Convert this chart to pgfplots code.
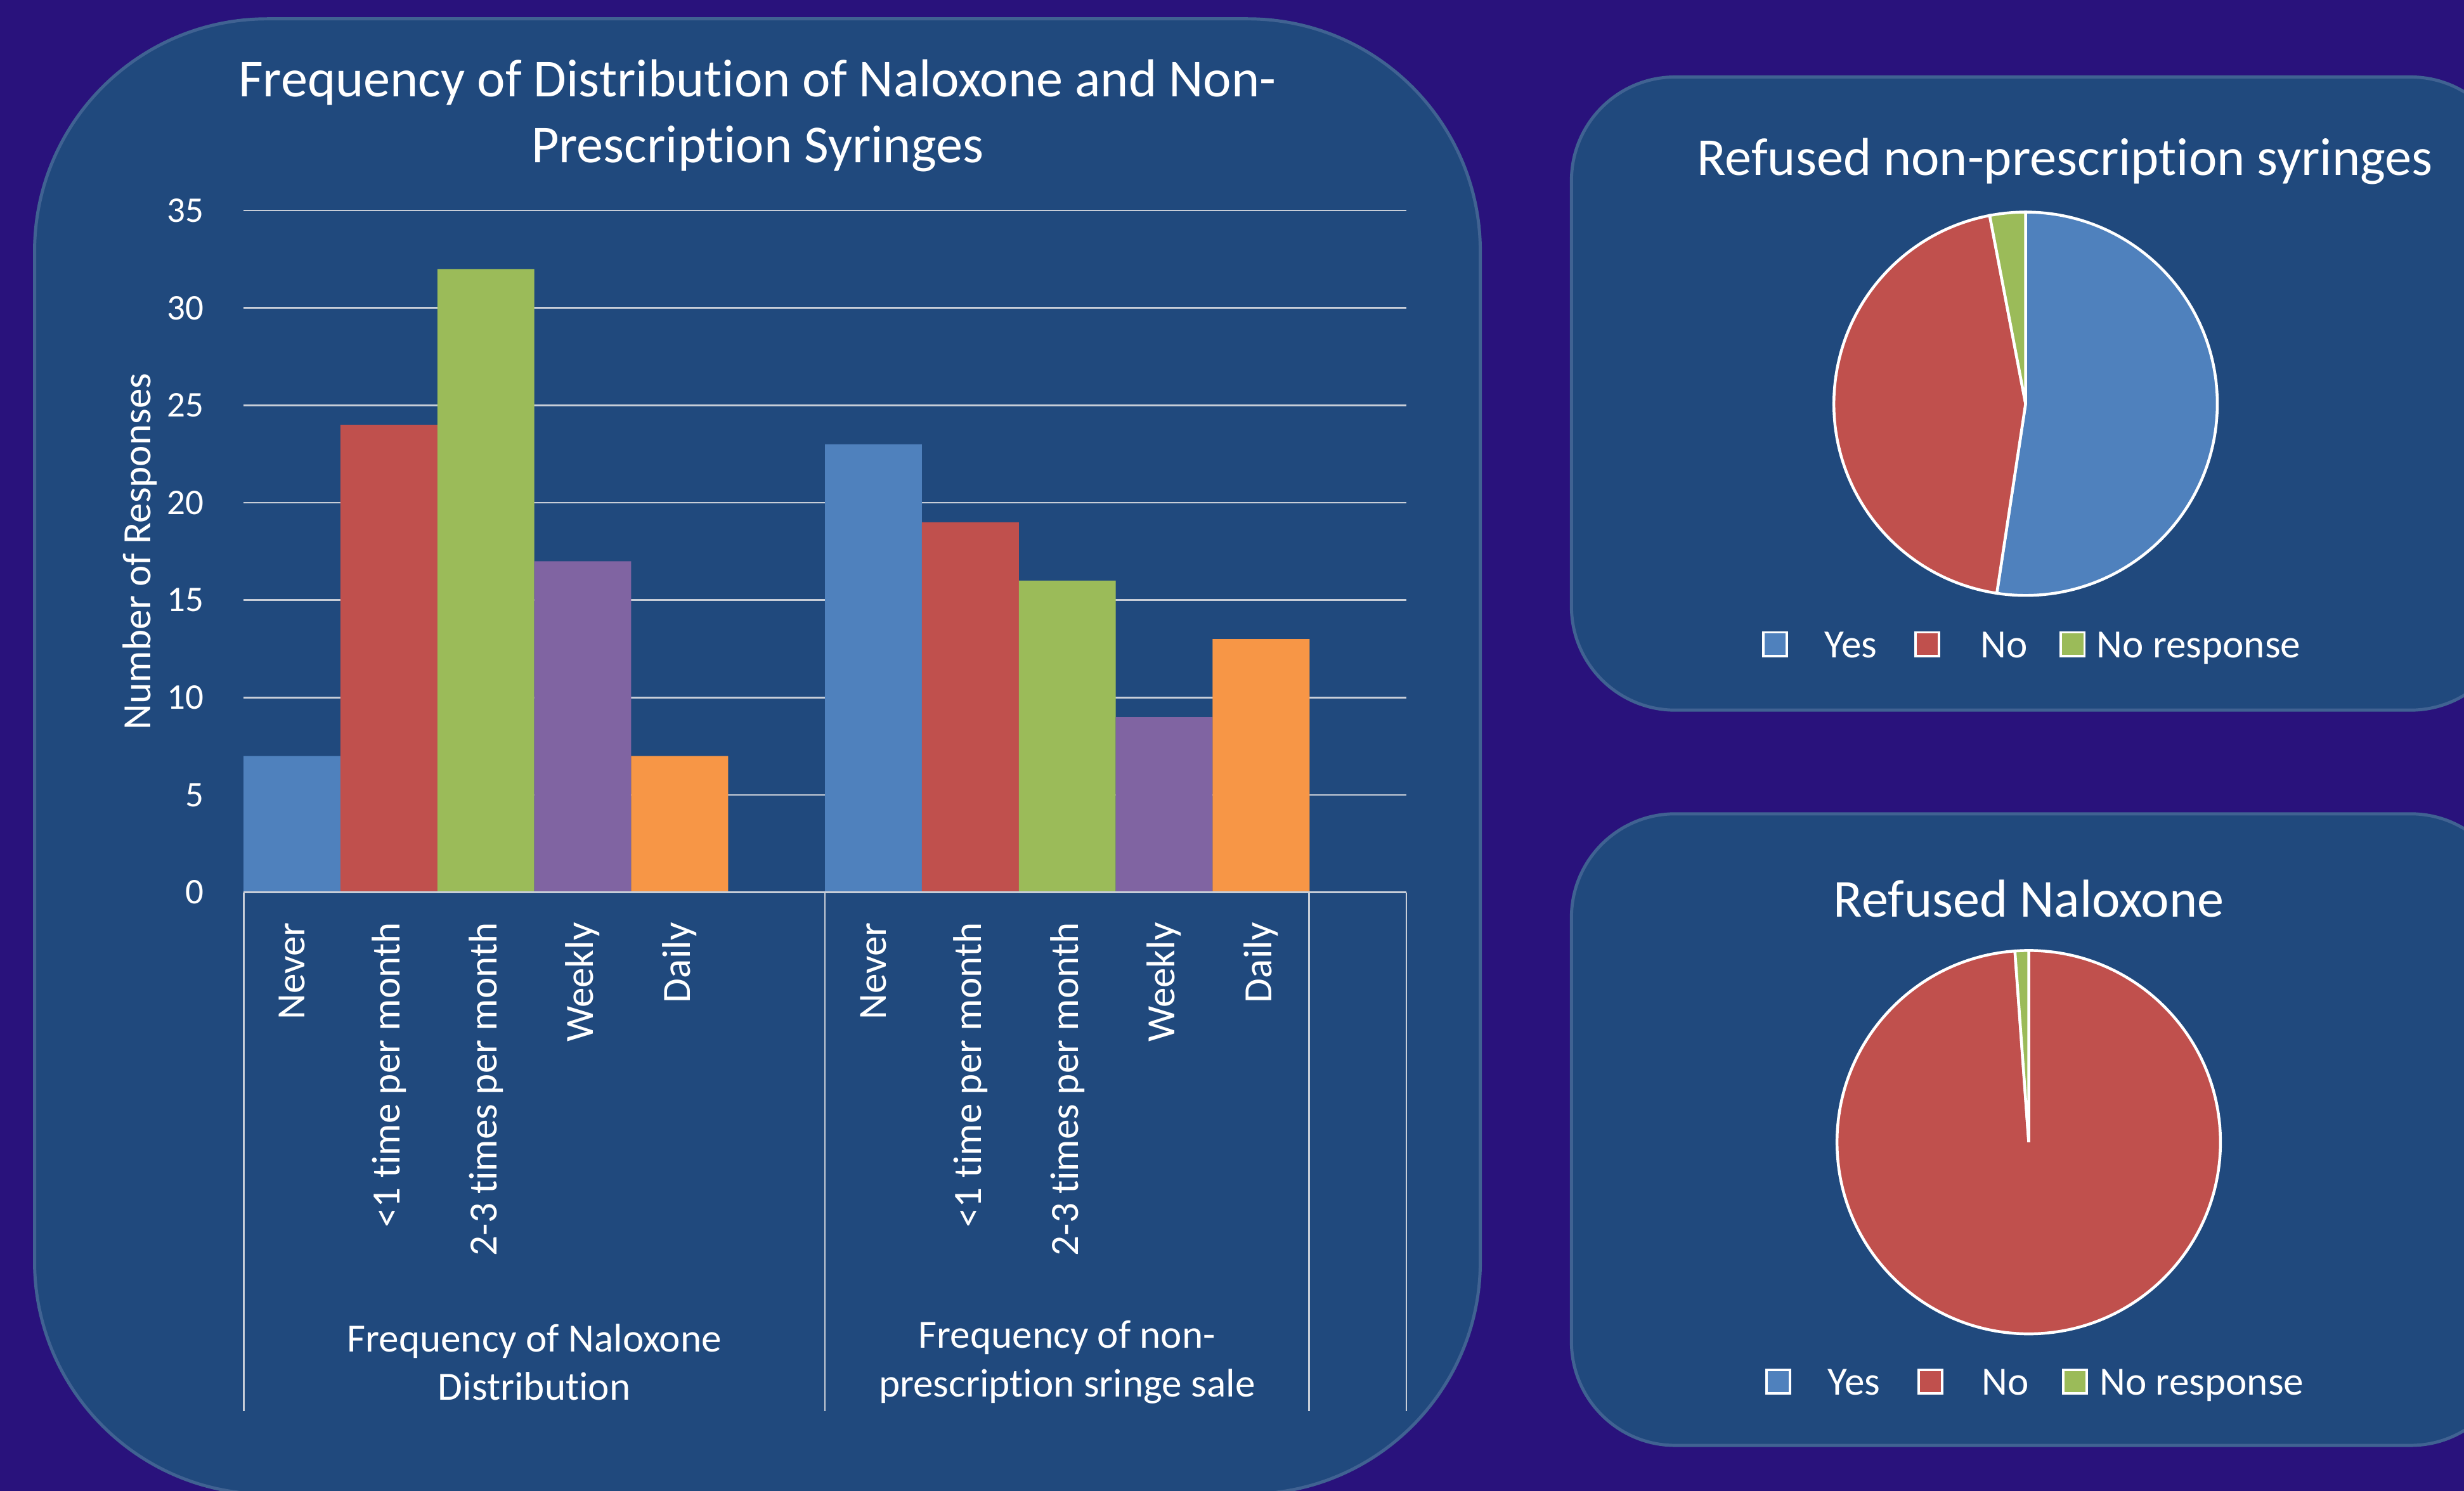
\documentclass[border=0pt]{standalone}
\usepackage{pgfplots}
\pgfplotsset{compat=1.18}
\usepackage{fontspec}
\setmainfont{Carlito}[Ligatures={NoCommon}]
\definecolor{bgpurple}{RGB}{41,18,124}
\definecolor{panel}{RGB}{32,73,125}
\definecolor{panelborder}{RGB}{64,98,146}
\definecolor{cblue}{RGB}{79,129,189}
\definecolor{cred}{RGB}{192,80,77}
\definecolor{cgreen}{RGB}{155,187,89}
\definecolor{cpurple}{RGB}{128,100,162}
\definecolor{corange}{RGB}{247,150,70}
\definecolor{gridc}{RGB}{200,206,216}
\newcommand\axfont{\fontsize{25.5}{31}\selectfont}
\newcommand\tickfont{\fontsize{23}{28}\selectfont}
\newcommand\titlefont{\fontsize{34}{42}\selectfont}
\begin{document}
\begin{tikzpicture}[x=1pt,y=1pt]
\path[use as bounding box] (0,0) rectangle (1568,-949);
\begin{scope}
\clip (0,0) rectangle (1568,-949);
\fill[bgpurple] (0,0) rectangle (1568,-949);
\draw[panelborder, line width=2pt, fill=panel, rounded corners=148pt] (22,-12) rectangle (942,-951);
\draw[panelborder, line width=2pt, fill=panel, rounded corners=66pt] (1000,-49) rectangle (1600,-452);
\draw[panelborder, line width=2pt, fill=panel, rounded corners=66pt] (1000,-518) rectangle (1600,-920);
\end{scope}

% ---------- bar chart ----------
\node[font=\titlefont, text=white, align=center] at (482,-73.5) {Frequency of Distribution of Naloxone and Non-\\Prescription Syringes};
\begin{axis}[
  at={(155pt,-568pt)}, anchor=south west,
  scale only axis, width=740pt, height=434pt,
  xmin=0, xmax=12, ymin=0, ymax=35,
  axis line style={draw=none},
  major tick length=0pt,
  ytick={0,5,...,35},
  ymajorgrids, grid style={gridc, line width=1.1pt},
  xtick={0.5,1.5,2.5,3.5,4.5,6.5,7.5,8.5,9.5,10.5},
  xticklabels={Never,{<1 time per month},{2-3 times per month},Weekly,Daily,Never,{<1 time per month},{2-3 times per month},Weekly,Daily},
  xticklabel style={font=\axfont, text=white, inner sep=0pt, yshift=-19pt, rotate=90, anchor=east},
  yticklabel style={font=\tickfont, text=white, inner sep=0pt, anchor=east, xshift=-25pt},
  /pgf/number format/assume math mode=true,
  clip=false,
]
\addplot[ybar, bar width=1, bar shift=0pt, fill=cblue, draw=none] coordinates {(0.5,7) (6.5,23)};
\addplot[ybar, bar width=1, bar shift=0pt, fill=cred, draw=none] coordinates {(1.5,24) (7.5,19)};
\addplot[ybar, bar width=1, bar shift=0pt, fill=cgreen, draw=none] coordinates {(2.5,32) (8.5,16)};
\addplot[ybar, bar width=1, bar shift=0pt, fill=cpurple, draw=none] coordinates {(3.5,17) (9.5,9)};
\addplot[ybar, bar width=1, bar shift=0pt, fill=corange, draw=none] coordinates {(4.5,7) (10.5,13)};
\end{axis}
\draw[gridc, line width=1.1pt] (155,-568) -- (895,-568);
\foreach \x in {155,525,833,895} \draw[gridc, line width=1.1pt] (\x,-568) -- (\x,-898);
\node[font=\axfont, text=white, rotate=90] at (89,-351) {Number of Responses};
\node[font=\axfont, text=white, align=center] at (340,-867) {Frequency of Naloxone\\Distribution};
\node[font=\axfont, text=white, align=center] at (679,-867) {Frequency of non-\\prescription sringe sale};

% ---------- pie 1 (shares in percent) ----------
\pgfmathsetmacro\aA{90-3.6*52.4}
\pgfmathsetmacro\aB{\aA-3.6*44.6}
\node[font=\titlefont, text=white] at (1314,-102.5) {Refused non-prescription syringes};
\begin{axis}[at={(1289pt,-257pt)}, anchor=center, scale only axis, width=244pt, height=244pt,
  xmin=-1, xmax=1, ymin=-1, ymax=1, hide axis, clip=false]
\filldraw[cblue, draw=white, line width=1.8pt] (axis cs:0,0) -- (axis cs:0,1) arc[start angle=90, end angle=\aA, radius=122pt] -- cycle;
\filldraw[cred, draw=white, line width=1.8pt] (axis cs:0,0) -- ++(\aA:122pt) arc[start angle=\aA, end angle=\aB, radius=122pt] -- cycle;
\filldraw[cgreen, draw=white, line width=1.8pt] (axis cs:0,0) -- ++(\aB:122pt) arc[start angle=\aB, end angle=-270, radius=122pt] -- cycle;
\end{axis}
\foreach \sx/\c in {1129.5/cblue,1226.5/cred,1319/cgreen}
  \filldraw[\c, draw=white, line width=1.5pt] (\sx-7.5,-402.5) rectangle (\sx+7.5,-417.5);
\node[font=\axfont, text=white, anchor=base west, inner sep=0pt] at (1161,-418.5) {Yes};
\node[font=\axfont, text=white, anchor=base west, inner sep=0pt] at (1260,-418.5) {No};
\node[font=\axfont, text=white, anchor=base west, inner sep=0pt] at (1334,-418.5) {No response};

% ---------- pie 2 (counts: Yes 0, No 86, No response 1) ----------
\pgfmathsetmacro\bA{90-0*360/87}
\pgfmathsetmacro\bB{\bA-86*(360/87)}
\node[font=\titlefont, text=white] at (1291,-572) {Refused Naloxone};
\begin{axis}[at={(1291pt,-727pt)}, anchor=center, scale only axis, width=244pt, height=244pt,
  xmin=-1, xmax=1, ymin=-1, ymax=1, hide axis, clip=false]
\filldraw[cred, draw=white, line width=1.8pt] (axis cs:0,0) -- ++(\bA:122pt) arc[start angle=\bA, end angle=\bB, radius=122pt] -- cycle;
\filldraw[cgreen, draw=white, line width=1.8pt] (axis cs:0,0) -- ++(\bB:122pt) arc[start angle=\bB, end angle=-270, radius=122pt] -- cycle;
\end{axis}
\foreach \sx/\c in {1131.5/cblue,1228.5/cred,1320.5/cgreen}
  \filldraw[\c, draw=white, line width=1.5pt] (\sx-7.5,-872) rectangle (\sx+7.5,-887);
\node[font=\axfont, text=white, anchor=base west, inner sep=0pt] at (1163,-888) {Yes};
\node[font=\axfont, text=white, anchor=base west, inner sep=0pt] at (1261,-888) {No};
\node[font=\axfont, text=white, anchor=base west, inner sep=0pt] at (1336,-888) {No response};
\end{tikzpicture}
\end{document}
